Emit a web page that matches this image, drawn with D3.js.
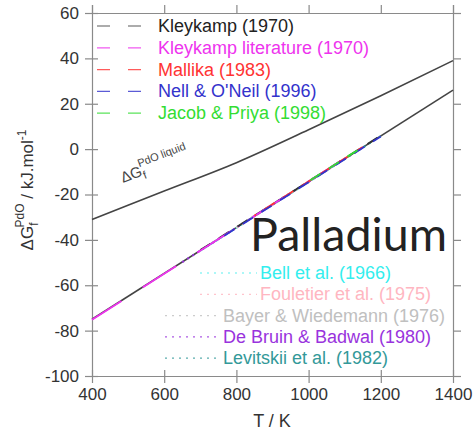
<!DOCTYPE html>
<html lang="en">
<head>
    <meta charset="UTF-8">
    <title>PdO Gibbs energy</title>
    <script src="https://d3js.org/d3.v7.min.js"></script>
    <style>
        body {
            margin: 0;
            background: #fff;
            font-family: "Liberation Sans", Arial, sans-serif;
        }
        svg {
            display: block;
        }
    </style>
</head>
<body>
    <div id="container"></div>

    <script>
        // axis ticks
        const xTicks = [400, 600, 800, 1000, 1200, 1400];
        const yTicks = [-100, -80, -60, -40, -20, 0, 20, 40, 60];

        // calculated curves (solid)
        const liquidT = [400, 600, 800, 1000, 1200, 1400];
        const liquidG = [-31, -18.5, -6, 8.5, 23.5, 39];
        const solidT = [400, 1400];
        const solidG = [-75, 26];

        // dashed data sets
        const dashedNames = ["Kleykamp (1970)", "Kleykamp literature (1970)", "Mallika (1983)", "Nell & O'Neil (1996)", "Jacob & Priya (1998)"];
        const dashedColors = ["#333333", "#ee33ee", "#ff3333", "#3333cc", "#33dd33"];
        const dashedT = [[700, 1200], [400, 1100], [850, 1150], [750, 1200], [1000, 1150]];
        const dashedG = [[-44.5, 6], [-75.2, -4.1], [-29.3, 0.9], [-39.8, 5.6], [-14.2, 1.0]];

        // dotted data sets
        const dottedNames = ["Bell et al. (1966)", "Fouletier et al. (1975)", "Bayer & Wiedemann (1976)", "De Bruin & Badwal (1980)", "Levitskii et al. (1982)"];
        const dottedColors = ["#33eeee", "#ffb6c1", "#c0c0c0", "#9933dd", "#339999"];
        const dottedT = [[700, 1100], [800, 1100], [800, 1050], [650, 1150], [900, 1200]];
        const dottedG = [[-44.8, -4.4], [-34.7, -4.2], [-34.4, -9.2], [-49.8, 0.8], [-24.4, 5.7]];

        const width = 475, height = 432;
        const plotLeft = 92, plotRight = 453, plotTop = 13, plotBottom = 376;

        const svg = d3.select('#container').append('svg')
            .attr('width', width)
            .attr('height', height);

        const x = d3.scaleLinear().domain([400, 1400]).range([plotLeft, plotRight]);
        const y = d3.scaleLinear().domain([-100, 60]).range([plotBottom, plotTop]);

        const axisColor = '#8a8a8a';
        const labelColor = '#333';
        const plain = d => String(d);

        // axes
        const gx = svg.append('g').attr('transform', `translate(0,${plotBottom})`)
            .call(d3.axisBottom(x).tickValues(xTicks).tickSize(0).tickPadding(12).tickFormat(plain));
        const gxTop = svg.append('g').attr('transform', `translate(0,${plotTop})`)
            .call(d3.axisTop(x).tickValues(xTicks).tickSize(8).tickFormat(''));
        const gy = svg.append('g').attr('transform', `translate(${plotLeft},0)`)
            .call(d3.axisLeft(y).tickValues(yTicks).tickSize(0).tickPadding(13).tickFormat(plain));
        const gyRight = svg.append('g').attr('transform', `translate(${plotRight},0)`)
            .call(d3.axisRight(y).tickValues(yTicks).tickSize(8).tickFormat(''));

        [gx, gxTop, gy, gyRight].forEach(g => {
            g.select('.domain').attr('stroke', axisColor).attr('stroke-width', 1.2);
            g.selectAll('.tick line').attr('stroke', axisColor).attr('stroke-width', 1.2);
            g.selectAll('.tick text')
                .attr('fill', labelColor)
                .style('font-size', '17px')
                .style('font-family', '"Liberation Sans", Arial, sans-serif');
        });

        // crossing ticks on left and bottom
        gx.selectAll('.tick').append('line')
            .attr('y1', -6).attr('y2', 7)
            .attr('stroke', axisColor).attr('stroke-width', 1.2);
        gy.selectAll('.tick').append('line')
            .attr('x1', -7).attr('x2', 6)
            .attr('stroke', axisColor).attr('stroke-width', 1.2);

        const line = d3.line().x(d => x(d[0])).y(d => y(d[1]));

        // solid curves
        svg.append('path')
            .datum(d3.zip(liquidT, liquidG))
            .attr('d', d3.line().curve(d3.curveMonotoneX).x(d => x(d[0])).y(d => y(d[1])))
            .attr('fill', 'none').attr('stroke', '#444').attr('stroke-width', 1.6);

        svg.append('path')
            .datum(d3.zip(solidT, solidG))
            .attr('d', line)
            .attr('fill', 'none').attr('stroke', '#444').attr('stroke-width', 1.6);

        // dotted data
        dottedNames.forEach((n, i) => {
            svg.append('path')
                .datum(d3.zip(dottedT[i], dottedG[i]))
                .attr('d', line)
                .attr('fill', 'none')
                .attr('stroke', dottedColors[i])
                .attr('stroke-width', 2)
                .attr('stroke-dasharray', '2,4');
        });

        // dashed data
        dashedNames.forEach((n, i) => {
            svg.append('path')
                .datum(d3.zip(dashedT[i], dashedG[i]))
                .attr('d', line)
                .attr('fill', 'none')
                .attr('stroke', dashedColors[i])
                .attr('stroke-width', 1.8)
                .attr('stroke-dasharray', i == 1 ? '40,25' : '12,10')
                .attr('stroke-dashoffset', i * 5);
        });

        // top legend
        const legTop = svg.append('g');
        dashedNames.forEach((n, i) => {
            const yy = 26 + i * 21.8;
            legTop.append('line')
                .attr('x1', 97).attr('x2', 142)
                .attr('y1', yy).attr('y2', yy)
                .attr('stroke', dashedColors[i])
                .attr('stroke-width', 1.2)
                .attr('stroke-dasharray', '13,18')
                .attr('opacity', 0.8);
            legTop.append('text')
                .attr('x', 158).attr('y', yy + 6)
                .attr('fill', dashedColors[i] == '#333333' ? '#222' : dashedColors[i])
                .style('font-size', '18px')
                .text(n);
        });

        // bottom legend
        const legStart = [200, 200, 165, 165, 165];
        const legText = [260, 260, 223, 223, 223];
        dottedNames.forEach((n, i) => {
            const yy = 273 + i * 21.3;
            svg.append('line')
                .attr('x1', legStart[i]).attr('x2', legText[i] - 3)
                .attr('y1', yy).attr('y2', yy)
                .attr('stroke', dottedColors[i])
                .attr('stroke-width', 1.2)
                .attr('stroke-dasharray', '2,5')
                .attr('opacity', 0.8);
            svg.append('text')
                .attr('x', legText[i]).attr('y', yy + 6)
                .attr('fill', dottedColors[i])
                .style('font-size', '18px')
                .text(n);
        });

        // Palladium label
        const pd = svg.append('text')
            .attr('x', 250).attr('y', 251)
            .attr('fill', '#222')
            .style('font-family', 'Lato, "Open Sans", sans-serif')
            .style('font-size', '36px')
            .text('Palladium');
        const pw = pd.node().getComputedTextLength();
        pd.style('font-size', (36 * 197 / pw) + 'px');

        // liquid annotation
        const ann = svg.append('text')
            .attr('transform', 'translate(123,183) rotate(-21)')
            .attr('fill', '#444')
            .style('font-size', '15px');
        ann.append('tspan').text('ΔG');
        ann.append('tspan').attr('dy', 4).style('font-size', '11px').text('f');
        ann.append('tspan').attr('dx', -4).attr('dy', -13).style('font-size', '11px').text('PdO liquid');

        // axis titles
        svg.append('text')
            .attr('x', 272).attr('y', 427)
            .attr('text-anchor', 'middle')
            .attr('fill', labelColor)
            .style('font-size', '18px')
            .text('T / K');

        const yt = svg.append('text')
            .attr('transform', 'translate(33,190) rotate(-90)')
            .attr('text-anchor', 'middle')
            .attr('fill', labelColor)
            .style('font-size', '17px');
        yt.append('tspan').text('ΔG');
        yt.append('tspan').attr('dy', 5).style('font-size', '12px').text('f');
        yt.append('tspan').attr('dx', -5).attr('dy', -14).style('font-size', '12px').text('PdO');
        yt.append('tspan').attr('dy', 9).text(' / kJ.mol');
        yt.append('tspan').attr('dy', -7).style('font-size', '12px').text('-1');
    </script>
</body>
</html>
